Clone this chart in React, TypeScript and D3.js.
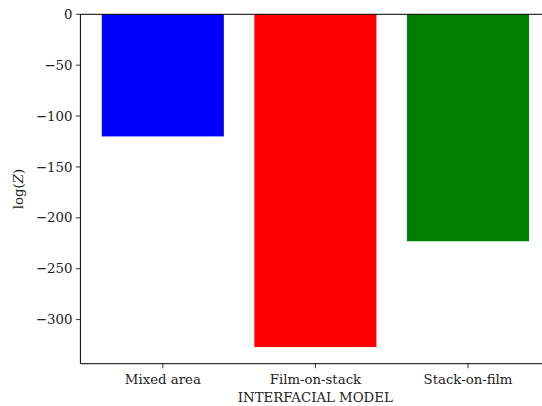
import React from "react";
import * as d3 from "d3";

const categories = ["Mixed area", "Film-on-stack", "Stack-on-film"];
const logZ = [-120, -327, -223];
const barColors = ["#0000ff", "#ff0000", "#008000"];
const yTicks = [0, -50, -100, -150, -200, -250, -300];

const W = 542;
const H = 406;
const margin = { left: 80.4, top: 14.3, bottom: 406 - 363.7 };
const FONT = "DejaVu Serif";

export default function App() {
  const yMin = d3.min(logZ)! * 1.05;
  const y = d3.scaleLinear().domain([yMin, 0]).range([H - margin.bottom, margin.top]);
  const unit = 152.6;
  const x = d3
    .scaleLinear()
    .domain([-0.54, 2.54])
    .range([margin.left, margin.left + 3.08 * unit]);
  const bw = 0.8;
  const left = margin.left;
  const bottom = H - margin.bottom;
  const top = margin.top;
  const right = x(2.54);

  return (
    <div style={{ position: "absolute", left: 0, top: 0 }}>
      <svg width={W} height={H} style={{ display: "block", background: "#fff" }} fontFamily={FONT}>
        {logZ.map((v, i) => (
          <rect
            key={categories[i]}
            x={x(i - bw / 2)}
            y={y(0)}
            width={x(i + bw / 2) - x(i - bw / 2)}
            height={y(v) - y(0)}
            fill={barColors[i]}
          />
        ))}
        {/* spines */}
        <g stroke="#000" strokeWidth={1} fill="none">
          <line x1={left} x2={left} y1={top} y2={bottom} />
          <line x1={left} x2={right} y1={bottom} y2={bottom} />
          <line x1={left} x2={right} y1={top} y2={top} />
          <line x1={right} x2={right} y1={top} y2={bottom} />
        </g>
        {/* y ticks */}
        {yTicks.map((t) => (
          <g key={t} transform={`translate(0,${y(t)})`}>
            <line x1={left - 4.5} x2={left} stroke="#000" strokeWidth={0.8} />
            <text x={left - 8} dy="0.35em" textAnchor="end" fontSize={13.3} fill="#222">
              {t < 0 ? `\u2212${Math.abs(t)}` : `${t}`}
            </text>
          </g>
        ))}
        {/* x ticks */}
        {categories.map((c, i) => (
          <g key={c} transform={`translate(${x(i)},0)`}>
            <line y1={bottom} y2={bottom + 4.5} stroke="#000" strokeWidth={0.8} />
            <text y={bottom + 20} textAnchor="middle" fontSize={13.3} fill="#222">
              {c}
            </text>
          </g>
        ))}
        <text
          x={(left + right) / 2 - 0}
          y={bottom + 38}
          textAnchor="middle"
          fontSize={13.3}
          fill="#222"
          transform={`translate(${315.3 - (left + right) / 2},0)`}
        >
          INTERFACIAL MODEL
        </text>
        <text
          transform={`translate(23,${(top + bottom) / 2}) rotate(-90)`}
          textAnchor="middle"
          fontSize={13.3}
          fill="#222"
        >
          log(<tspan fontStyle="italic">Z</tspan>)
        </text>
      </svg>
    </div>
  );
}
